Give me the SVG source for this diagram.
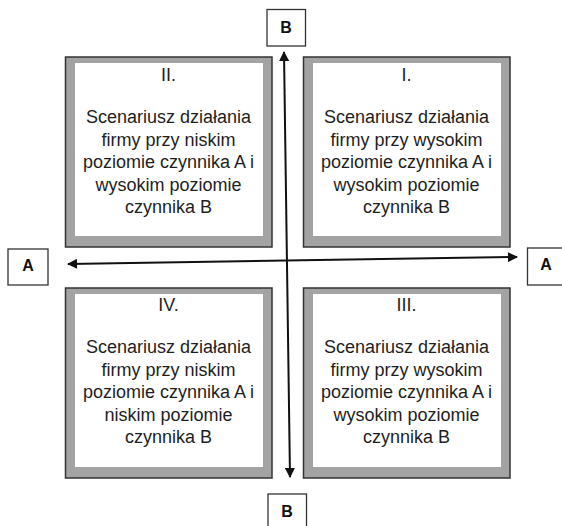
<svg xmlns="http://www.w3.org/2000/svg" width="562" height="526" viewBox="0 0 562 526">
  <style>
    .frame { fill: #a3a3a3; stroke: #333333; stroke-width: 1.5; }
    .inner { fill: #ffffff; }
    .txt { font-family: "Liberation Sans", Arial, sans-serif; font-size: 18px; fill: #1e1e1e; text-anchor: middle; }
    .lbl-box { fill: #ffffff; stroke: #333333; stroke-width: 1.3; }
    .lbl { font-family: "Liberation Sans", Arial, sans-serif; font-size: 16px; font-weight: bold; fill: #111111; text-anchor: middle; }
    .axis { fill: none; stroke: #111111; stroke-width: 2; }
  </style>
  <defs>
    <marker id="arrow" viewBox="0 0 10 10" refX="9" refY="5" markerWidth="6" markerHeight="5" orient="auto-start-reverse" markerUnits="strokeWidth">
      <path d="M0,0 L10,5 L0,10 z" fill="#111111"/>
    </marker>
  </defs>

  <rect width="562" height="526" fill="#ffffff"/>

  <!-- quadrant II (top left) -->
  <g id="quadrant-II">
    <rect class="frame" x="65.5" y="57" width="206.5" height="190"/>
    <rect class="inner" x="75" y="63" width="188" height="173"/>
    <text class="txt" x="168.5" y="81">II.</text>
    <text class="txt" x="168.5" y="123">Scenariusz działania</text>
    <text class="txt" x="168.5" y="145.5">firmy przy niskim</text>
    <text class="txt" x="168.5" y="168">poziomie czynnika A i</text>
    <text class="txt" x="168.5" y="190.5">wysokim poziomie</text>
    <text class="txt" x="168.5" y="213">czynnika B</text>
  </g>

  <!-- quadrant I (top right) -->
  <g id="quadrant-I">
    <rect class="frame" x="303.5" y="57" width="206.5" height="190"/>
    <rect class="inner" x="313" y="63" width="188" height="173"/>
    <text class="txt" x="406.5" y="81">I.</text>
    <text class="txt" x="406.5" y="123">Scenariusz działania</text>
    <text class="txt" x="406.5" y="145.5">firmy przy wysokim</text>
    <text class="txt" x="406.5" y="168">poziomie czynnika A i</text>
    <text class="txt" x="406.5" y="190.5">wysokim poziomie</text>
    <text class="txt" x="406.5" y="213">czynnika B</text>
  </g>

  <!-- quadrant IV (bottom left) -->
  <g id="quadrant-IV">
    <rect class="frame" x="65.5" y="288" width="206.5" height="190"/>
    <rect class="inner" x="75" y="294" width="188" height="173"/>
    <text class="txt" x="168.5" y="311">IV.</text>
    <text class="txt" x="168.5" y="353">Scenariusz działania</text>
    <text class="txt" x="168.5" y="375.5">firmy przy niskim</text>
    <text class="txt" x="168.5" y="398">poziomie czynnika A i</text>
    <text class="txt" x="168.5" y="420.5">niskim poziomie</text>
    <text class="txt" x="168.5" y="443">czynnika B</text>
  </g>

  <!-- quadrant III (bottom right) -->
  <g id="quadrant-III">
    <rect class="frame" x="303.5" y="288" width="206.5" height="190"/>
    <rect class="inner" x="313" y="294" width="188" height="173"/>
    <text class="txt" x="406.5" y="311">III.</text>
    <text class="txt" x="406.5" y="353">Scenariusz działania</text>
    <text class="txt" x="406.5" y="375.5">firmy przy wysokim</text>
    <text class="txt" x="406.5" y="398">poziomie czynnika A i</text>
    <text class="txt" x="406.5" y="420.5">wysokim poziomie</text>
    <text class="txt" x="406.5" y="443">czynnika B</text>
  </g>

  <!-- axis labels -->
  <g id="label-B-top">
    <rect class="lbl-box" x="267" y="9.5" width="38.5" height="36.5"/>
    <text class="lbl" x="286" y="33">B</text>
  </g>
  <g id="label-B-bottom">
    <rect class="lbl-box" x="268" y="494" width="38.5" height="37"/>
    <text class="lbl" x="287" y="517">B</text>
  </g>
  <g id="label-A-left">
    <rect class="lbl-box" x="8" y="249" width="40" height="36"/>
    <text class="lbl" x="28" y="271">A</text>
  </g>
  <g id="label-A-right">
    <rect class="lbl-box" x="527.5" y="248" width="40" height="37"/>
    <text class="lbl" x="546" y="270">A</text>
  </g>

  <!-- axes -->
  <g id="connectors">
    <path class="axis" d="M284,52 L290,477" marker-start="url(#arrow)" marker-end="url(#arrow)"/>
    <path class="axis" d="M68,264 L517,257" marker-start="url(#arrow)" marker-end="url(#arrow)"/>
  </g>
</svg>
